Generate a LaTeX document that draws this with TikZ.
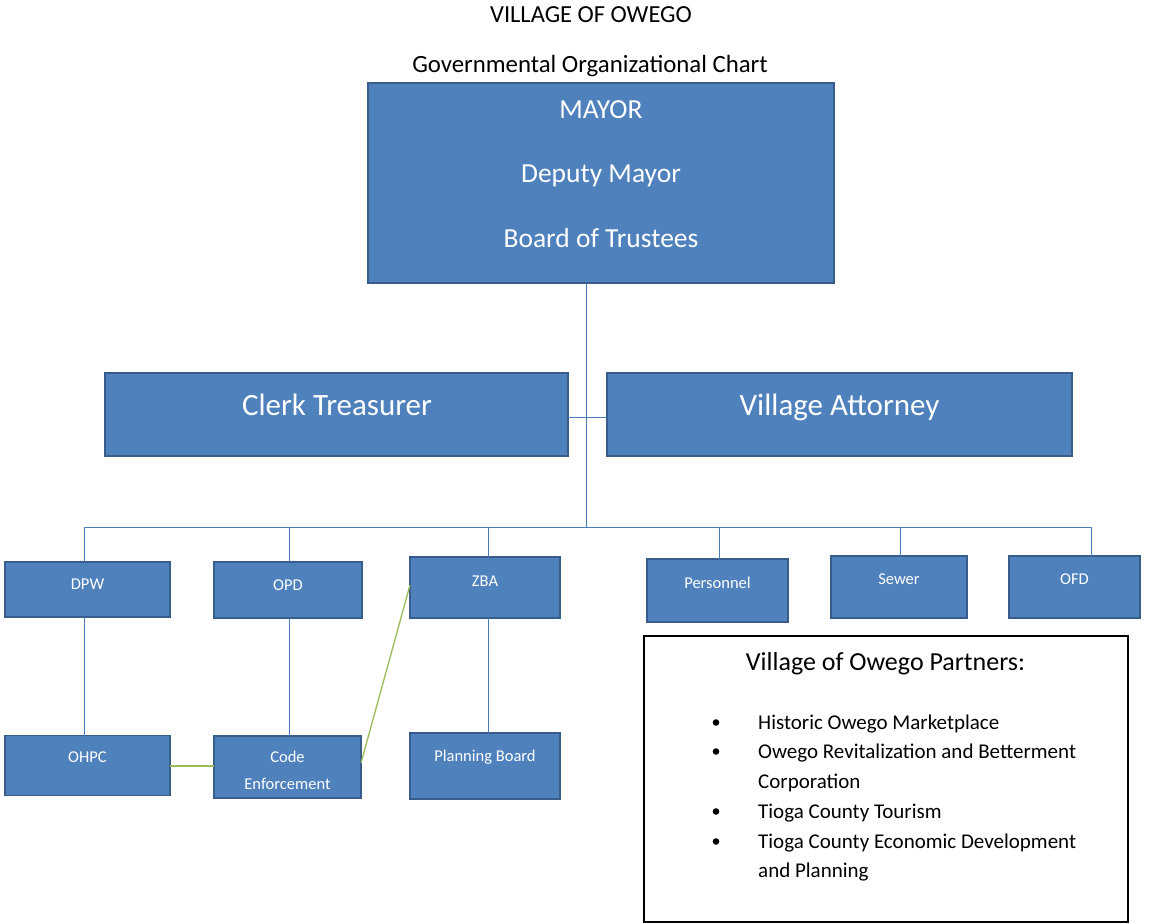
\documentclass[tikz,border=0pt]{standalone}
\usepackage{fontspec}
\setmainfont{Carlito}
\begin{document}
\begin{tikzpicture}[x=1pt,y=-1pt,
  box/.style={draw=boxline,fill=boxfill,line width=1.6pt,inner sep=0pt,outer sep=0pt},
  wtxt/.style={text=white,inner sep=0pt,anchor=base},
  stxt/.style={wtxt,font=\fontsize{16.5}{19}\selectfont},
  conn/.style={draw=connline,line width=0.9pt},
  gconn/.style={draw=greenline,line width=1.3pt},
  ttl/.style={inner sep=0pt,anchor=base,text=black}]
\definecolor{boxfill}{HTML}{4F81BD}
\definecolor{boxline}{HTML}{385D8A}
\definecolor{connline}{HTML}{4A7EBB}
\definecolor{greenline}{HTML}{9BBB59}
\useasboundingbox (0,0) rectangle (1152,924);
% titles
\node[ttl,font=\fontsize{24.5}{28}\selectfont] (t1) at (591,22) {VILLAGE OF OWEGO};
\node[ttl,font=\fontsize{24.8}{28}\selectfont] (t2) at (590,72) {Governmental Organizational Chart};
% mayor
\node[box,minimum width=466pt,minimum height=200pt] (mayor) at (601,183) {};
\node[wtxt,font=\fontsize{27.5}{30}\selectfont] (m1) at (601,118) {MAYOR};
\node[wtxt,font=\fontsize{27.5}{30}\selectfont] (m2) at (601,182) {Deputy Mayor};
\node[wtxt,font=\fontsize{27.5}{30}\selectfont] (m3) at (601,247) {Board of Trustees};
% second level
\node[box,minimum width=463pt,minimum height=83pt] (clerk) at (336.5,414.5) {};
\node[wtxt,font=\fontsize{31}{34}\selectfont] (clerkt) at (337,415) {Clerk Treasurer};
\node[box,minimum width=465pt,minimum height=83pt] (atty) at (839.5,414.5) {};
\node[wtxt,font=\fontsize{31}{34}\selectfont] (attyt) at (839.5,415) {Village Attorney};
\coordinate (j1) at (586,417);
\coordinate (j2) at (586,527);
\draw[conn] (mayor.south -| j1) -- (j2);
\draw[conn] (clerk.east |- j1) -- (atty.west |- j1);
% third level
\node[box,minimum width=165pt,minimum height=55pt] (dpw) at (87.5,589.5) {};
\node[stxt] (dpwt) at (87.5,589) {DPW};
\node[box,minimum width=148pt,minimum height=56pt] (opd) at (288,590) {};
\node[stxt] (opdt) at (288,590) {OPD};
\node[box,minimum width=150pt,minimum height=61pt] (zba) at (485,587.5) {};
\node[stxt] (zbat) at (485,586) {ZBA};
\node[box,minimum width=141pt,minimum height=63pt] (pers) at (717.5,590.5) {};
\node[stxt] (perst) at (717.5,588) {Personnel};
\node[box,minimum width=136pt,minimum height=62pt] (sewer) at (899,587) {};
\node[stxt] (sewert) at (899,584) {Sewer};
\node[box,minimum width=131pt,minimum height=62pt] (ofd) at (1074.5,587) {};
\node[stxt] (ofdt) at (1074.5,584) {OFD};
\coordinate (hl) at (84,527);
\coordinate (xo) at (289,527);
\coordinate (xz) at (488,527);
\coordinate (xp) at (719,527);
\coordinate (xs) at (900,527);
\coordinate (hr) at (1091,527);
\draw[conn] (hl) -- (hr);
\draw[conn] (hl) -- (hl |- dpw.north);
\draw[conn] (xo) -- (xo |- opd.north);
\draw[conn] (xz) -- (xz |- zba.north);
\draw[conn] (xp) -- (xp |- pers.north);
\draw[conn] (xs) -- (xs |- sewer.north);
\draw[conn] (hr) -- (hr |- ofd.north);
% fourth level
\node[box,minimum width=165pt,minimum height=60pt] (ohpc) at (87.5,765.5) {};
\node[stxt] (ohpct) at (87.5,762) {OHPC};
\node[box,minimum width=147pt,minimum height=62pt] (code) at (287.5,767) {};
\node[stxt] (codet1) at (287.5,762) {Code};
\node[stxt] (codet2) at (287.5,789) {Enforcement};
\node[box,minimum width=150pt,minimum height=66pt] (plan) at (485,766) {};
\node[stxt] (plant) at (485,761) {Planning Board};
\draw[conn] (dpw.south -| hl) -- (ohpc.north -| hl);
\draw[conn] (opd.south -| xo) -- (code.north -| xo);
\draw[conn] (zba.south -| xz) -- (plan.north -| xz);
\coordinate (g1) at (0,766);
\coordinate (g2) at (0,763);
\coordinate (g3) at (0,585);
\draw[gconn] (ohpc.east |- g1) -- (code.west |- g1);
\draw[gconn] (code.east |- g2) -- (zba.west |- g3);
% partners box
\node[draw=black,line width=1.4pt,minimum width=484pt,minimum height=286pt,inner sep=0pt] (partners) at (886,779) {};
\node[ttl,font=\fontsize{26}{30}\selectfont] (pt) at (885.5,670) {Village of Owego Partners:};
\foreach \yy/\txt/\bul [count=\i] in {729/Historic Owego Marketplace/1,758/Owego Revitalization and Betterment/1,788/Corporation/0,818/Tioga County Tourism/1,848/Tioga County Economic Development/1,877/and Planning/0}{
  \node[inner sep=0pt,anchor=base west,font=\fontsize{21}{24}\selectfont] (pi\i) at (758,\yy) {\txt};
  \ifnum\bul=1 \fill (716,\yy-6.5) circle (3.3pt); \fi
}
\end{tikzpicture}
\end{document}
